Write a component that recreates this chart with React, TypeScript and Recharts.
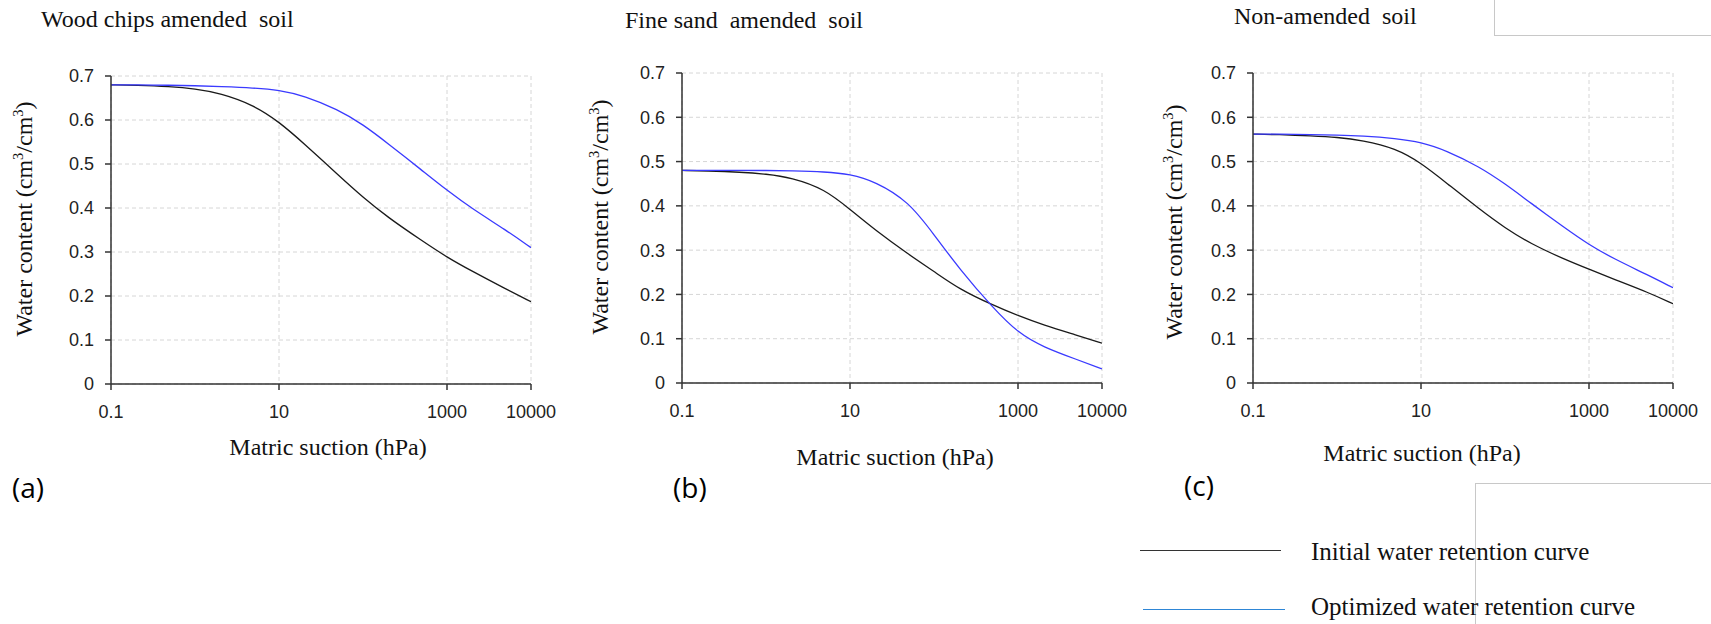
import React from "react"
import { LineChart, Line, XAxis, YAxis, CartesianGrid } from "recharts"

// matric suction (hPa) sample points
const SUCTION = [0.1, 0.2, 0.5, 1, 2, 5, 10, 20, 50, 100, 200, 500, 1000, 2000, 5000, 10000]

// (a) wood chips amended soil
const WOOD_INITIAL = [0.68, 0.679, 0.676, 0.671, 0.661, 0.634, 0.596, 0.546, 0.476, 0.424, 0.378, 0.326, 0.288, 0.256, 0.216, 0.187]
const WOOD_OPTIMIZED = [0.68, 0.68, 0.679, 0.678, 0.676, 0.673, 0.668, 0.655, 0.624, 0.59, 0.546, 0.486, 0.44, 0.398, 0.35, 0.31]

// (b) fine sand amended soil
const SAND_INITIAL = [0.48, 0.479, 0.476, 0.472, 0.464, 0.438, 0.392, 0.345, 0.29, 0.252, 0.212, 0.176, 0.152, 0.131, 0.108, 0.09]
const SAND_OPTIMIZED = [0.48, 0.48, 0.48, 0.48, 0.479, 0.477, 0.472, 0.455, 0.41, 0.335, 0.258, 0.17, 0.113, 0.081, 0.053, 0.032]

// (c) non-amended soil
const NON_INITIAL = [0.562, 0.561, 0.558, 0.555, 0.548, 0.53, 0.497, 0.452, 0.392, 0.35, 0.315, 0.28, 0.257, 0.234, 0.205, 0.179]
const NON_OPTIMIZED = [0.562, 0.562, 0.561, 0.56, 0.558, 0.552, 0.544, 0.525, 0.488, 0.45, 0.407, 0.352, 0.312, 0.28, 0.244, 0.215]

const X_TICKS = [0.1, 10, 1000, 10000]
const Y_TICKS = [0, 0.1, 0.2, 0.3, 0.4, 0.5, 0.6, 0.7]

const SERIES_NAMES = ["Initial water retention curve", "Optimized water retention curve"]

const SERIF = "'Liberation Serif', 'Times New Roman', serif"
const SANS = "'Liberation Sans', Arial, sans-serif"
const AXIS = "#333"
const BLUE = "#3a3aff"

const rows = (initial: number[], optimized: number[]) =>
  SUCTION.map((x, i) => ({ x, initial: initial[i], optimized: optimized[i] }))

interface PanelProps {
  left: number
  data: { x: number; initial: number; optimized: number }[]
  margin: { top: number; left: number; right: number; bottom: number }
}

function Panel({ left, data, margin }: PanelProps) {
  const tick = { fontSize: 18, fontFamily: SANS, fill: "#222" }
  return (
    <div style={{ position: "absolute", left, top: 0 }}>
      <LineChart width={570} height={470} data={data} margin={margin}>
        <CartesianGrid stroke="#d6d6d6" strokeDasharray="4 3" />
        <XAxis
          dataKey="x"
          type="number"
          scale="log"
          domain={[0.1, 10000]}
          allowDataOverflow
          ticks={X_TICKS}
          interval={0}
          height={30}
          tickSize={6}
          tickMargin={15}
          tick={tick}
          axisLine={{ stroke: AXIS, strokeWidth: 1.5 }}
          tickLine={{ stroke: AXIS, strokeWidth: 1.5 }}
        />
        <YAxis
          type="number"
          domain={[0, 0.7]}
          ticks={Y_TICKS}
          interval={0}
          width={40}
          tickSize={6}
          tickMargin={11}
          tick={tick}
          axisLine={{ stroke: AXIS, strokeWidth: 1.5 }}
          tickLine={{ stroke: AXIS, strokeWidth: 1.5 }}
        />
        <Line
          dataKey="initial"
          name={SERIES_NAMES[0]}
          type="basis"
          stroke="#1a1a1a"
          strokeWidth={1.3}
          dot={false}
          isAnimationActive={false}
        />
        <Line
          dataKey="optimized"
          name={SERIES_NAMES[1]}
          type="basis"
          stroke={BLUE}
          strokeWidth={1.3}
          dot={false}
          isAnimationActive={false}
        />
      </LineChart>
    </div>
  )
}

const textAt = (x: number, y: number, extra: React.CSSProperties = {}): React.CSSProperties => ({
  position: "absolute",
  left: x,
  top: y,
  transform: "translateY(-50%)",
  whiteSpace: "pre",
  lineHeight: 1,
  fontFamily: SERIF,
  fontSize: 24,
  color: "#111",
  ...extra,
})

function YTitle({ cx, cy }: { cx: number; cy: number }) {
  return (
    <div style={textAt(cx, cy, { transform: "translate(-50%, -50%) rotate(-90deg)" })}>
      Water content (cm<sup style={{ fontSize: "0.6em" }}>3</sup>/cm<sup style={{ fontSize: "0.6em" }}>3</sup>)
    </div>
  )
}

function XTitle({ cx, cy }: { cx: number; cy: number }) {
  return <div style={textAt(cx, cy, { transform: "translate(-50%, -50%)" })}>Matric suction (hPa)</div>
}

function Letter({ x, y, children }: { x: number; y: number; children: string }) {
  return <div style={textAt(x, y, { fontFamily: "'Open Sans', sans-serif", fontSize: 28, color: "#000" })}>{children}</div>
}

export default function App() {
  return (
    <div style={{ position: "absolute", left: 0, top: 0, width: 1711, height: 624, background: "#fff", overflow: "hidden" }}>
      <Panel left={0} data={rows(WOOD_INITIAL, WOOD_OPTIMIZED)} margin={{ top: 76, left: 71, right: 39, bottom: 56 }} />
      <Panel left={570} data={rows(SAND_INITIAL, SAND_OPTIMIZED)} margin={{ top: 73, left: 72, right: 38, bottom: 57 }} />
      <Panel left={1140} data={rows(NON_INITIAL, NON_OPTIMIZED)} margin={{ top: 73, left: 73, right: 37, bottom: 57 }} />

      <div style={textAt(41, 19)}>{"Wood chips amended  soil"}</div>
      <div style={textAt(625, 20)}>{"Fine sand  amended  soil"}</div>
      <div style={textAt(1234, 16)}>{"Non-amended  soil"}</div>

      <YTitle cx={23} cy={219} />
      <YTitle cx={599} cy={217} />
      <YTitle cx={1173} cy={222} />

      <XTitle cx={328} cy={447} />
      <XTitle cx={895} cy={457} />
      <XTitle cx={1422} cy={453} />

      <Letter x={12} y={487}>(a)</Letter>
      <Letter x={673} y={487}>(b)</Letter>
      <Letter x={1184} y={485}>(c)</Letter>

      {/* gray frame remnants */}
      <div style={{ position: "absolute", left: 1494, top: -1, width: 230, height: 36, borderLeft: "1px solid #c8c8c8", borderBottom: "1px solid #c8c8c8" }} />
      <div style={{ position: "absolute", left: 1475, top: 483, width: 250, height: 150, borderLeft: "1px solid #c8c8c8", borderTop: "1px solid #c8c8c8" }} />

      {/* legend */}
      <div style={{ position: "absolute", left: 1140, top: 550, width: 141, height: 0, borderTop: "1.5px solid #333" }} />
      <div style={{ position: "absolute", left: 1143, top: 609, width: 142, height: 0, borderTop: "1.5px solid #2e86d6" }} />
      <div style={textAt(1311, 551, { fontSize: 25 })}>{SERIES_NAMES[0]}</div>
      <div style={textAt(1311, 606, { fontSize: 25 })}>{SERIES_NAMES[1]}</div>
    </div>
  )
}
